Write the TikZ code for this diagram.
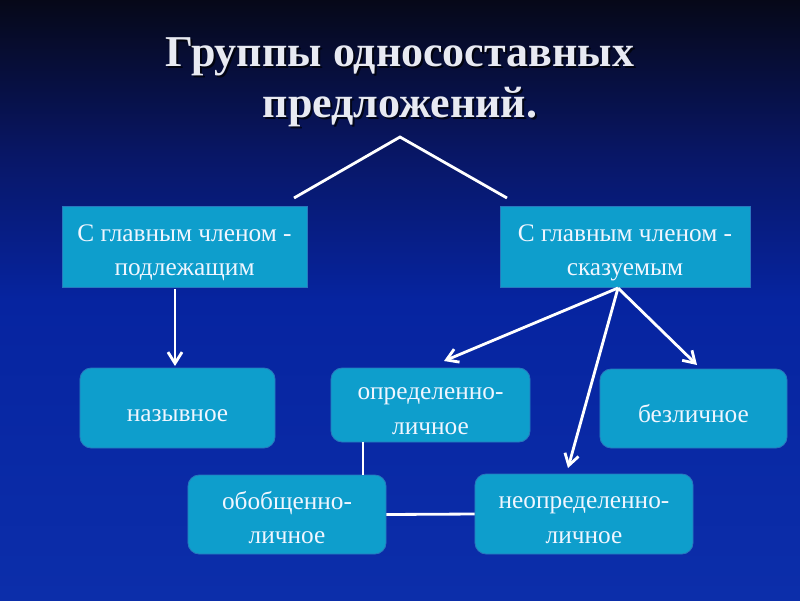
\documentclass[tikz,border=0pt]{standalone}
\usepackage{fontspec}
\setmainfont{Liberation Serif}
\usetikzlibrary{arrows.meta}
\definecolor{bgA}{RGB}{6,8,24}
\definecolor{bgB}{RGB}{8,22,100}
\definecolor{bgC}{RGB}{6,36,160}
\definecolor{bgD}{RGB}{12,46,170}
\definecolor{boxfill}{RGB}{14,158,204}
\definecolor{boxedge}{RGB}{40,120,190}
\definecolor{txt}{RGB}{240,246,255}
\definecolor{ttl}{RGB}{232,234,242}
\newcommand\twol[2]{\raisebox{0pt}[\dimexpr\height+4pt\relax][\dimexpr\depth-3pt\relax]{\begin{tabular}{@{}c@{}}#1\\#2\end{tabular}}}
\tikzset{
  box/.style={fill=boxfill, draw=boxedge, line width=0.6pt, text=txt, align=center,
    font=\fontsize{18}{24.5}\selectfont, inner sep=0pt},
  oneline/.style={execute at begin node={\rule{0pt}{20pt}}},
  rbox/.style={box, rounded corners=8pt},
  ttlstyle/.style={text=ttl, font=\fontsize{31.3}{36}\selectfont\bfseries, anchor=base},
  shd/.style={text=black, opacity=0.7, font=\fontsize{31.3}{36}\selectfont\bfseries, anchor=base},
  ln/.style={draw=white, line width=2pt},
  arr/.style={ln, -{Straight Barb[length=8pt,width=10pt]}}
}
\begin{document}
\begin{tikzpicture}[x=0.025cm,y=-0.025cm]
\useasboundingbox (0,0) rectangle (800,600);
\shade[top color=bgA, bottom color=bgB] (0,0) rectangle (800,151);
\shade[top color=bgB, bottom color=bgC] (0,150) rectangle (800,301);
\shade[top color=bgC, bottom color=bgD] (0,300) rectangle (800,600);

\node[shd] (s1) at (402,68) {Группы односоставных};
\node[shd] (s2) at (402,119) {предложений.};
\node[ttlstyle] (t1) at (400,66) {Группы односоставных};
\node[ttlstyle] (t2) at (400,117) {предложений.};

\node[box, minimum width=6.125cm, minimum height=2.025cm] (A) at (184.5,246.5) {\twol{С главным членом -}{подлежащим}};
\node[box, minimum width=6.25cm, minimum height=2.025cm] (B) at (625,246.5) {\twol{С главным членом -}{сказуемым}};
\node[rbox, oneline, minimum width=4.875cm, minimum height=2cm] (C) at (177.5,408) {назывное};
\node[rbox, minimum width=4.975cm, minimum height=1.85cm] (D) at (430.5,405) {\twol{определенно-}{личное}};
\node[rbox, oneline, minimum width=4.675cm, minimum height=1.975cm] (E) at (693.5,408.5) {безличное};
\node[rbox, minimum width=4.95cm, minimum height=1.975cm] (F) at (287,514.5) {\twol{обобщенно-}{личное}};
\node[rbox, minimum width=5.45cm, minimum height=2cm] (G) at (584,514) {\twol{неопределенно-}{личное}};

\coordinate (r1) at (294,198);
\coordinate (r2) at (400,137);
\coordinate (r3) at (507,198);
\draw[ln, line join=miter] (r1) -- (r2) -- (r3);

\coordinate (a1) at (175,289);
\coordinate (c1) at (175,366);
\draw[arr] (a1) -- (c1);

\coordinate (b1) at (618,288);
\coordinate (d1) at (444,361);
\coordinate (g1) at (568,468);
\coordinate (e1) at (697,365);
\draw[arr] (b1) -- (d1);
\draw[arr] (b1) -- (g1);
\draw[arr] (b1) -- (e1);

\coordinate (d2) at (363,442);
\coordinate (f2) at (363,475);
\draw[ln] (d2) -- (f2);
\draw[ln] (F.east) -- (G.west);
\end{tikzpicture}
\end{document}
